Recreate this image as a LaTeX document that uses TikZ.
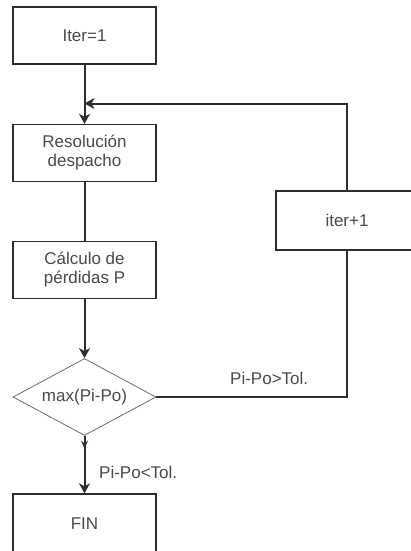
\documentclass[tikz,border=0pt]{standalone}
\usepackage{fontspec}
\setmainfont{Liberation Sans}
\usetikzlibrary{shapes.geometric,arrows.meta,decorations.markings}
\definecolor{linec}{HTML}{2E2E2E}
\definecolor{textc}{HTML}{4A4A4A}
\tikzset{
  boxn/.style={draw=linec, line width=1.3pt, rectangle, minimum width=143pt, minimum height=57pt, inner sep=0pt, align=center, text=textc, font=\fontsize{17}{19}\selectfont},
  dian/.style={draw=linec!70, line width=0.8pt, diamond, minimum width=143pt, minimum height=77pt, inner sep=0pt, aspect=1.86, text=textc, font=\fontsize{17}{19}\selectfont},
  conn/.style={draw=linec, line width=2pt},
  arr/.style={conn, -{Stealth[length=10pt,width=11pt,inset=3pt]}},
  lab/.style={text=textc, font=\fontsize{17}{19}\selectfont, inner sep=0pt}
}
\begin{document}
\begin{tikzpicture}[x=1pt,y=-1pt]
\useasboundingbox (0,0) rectangle (411,551);
\clip (0,0) rectangle (411,551);
\fill[white] (0,0) rectangle (411,551);
\node[boxn] (it) at (84.5,35.5) {Iter=1};
\node[boxn] (res) at (84.5,153) {Resolución\\despacho};
\node[boxn] (calc) at (84.5,270) {Cálculo de\\pérdidas P};
\node[dian] (dia) at (84.5,397) {max(Pi-Po)};
\node[boxn, minimum width=142pt, minimum height=59pt] (itp) at (347,220.5) {iter+1};
\node[boxn, minimum height=70pt] (fin) at (84.5,529) {\raisebox{10pt}{FIN}};
\coordinate (join) at (84.5,103.5);
\draw[arr] (it.south) -- (res.north);
\draw[arr] (itp.north) |- (join);
\draw[conn] (res.south) -- (calc.north);
\draw[arr] (calc.south) -- (dia.north);
\draw[conn] (dia.east) -| (itp.south);
\draw[arr, postaction={decorate}, decoration={markings, mark=at position 0.22 with {\arrow{Stealth[length=8pt,width=7pt,inset=3pt]}}}] (dia.south) -- (fin.north);
\node[lab, anchor=west] (l1) at (230,378) {Pi-Po>Tol.};
\node[lab, anchor=west] (l2) at (99,472) {Pi-Po<Tol.};
\end{tikzpicture}
\end{document}
